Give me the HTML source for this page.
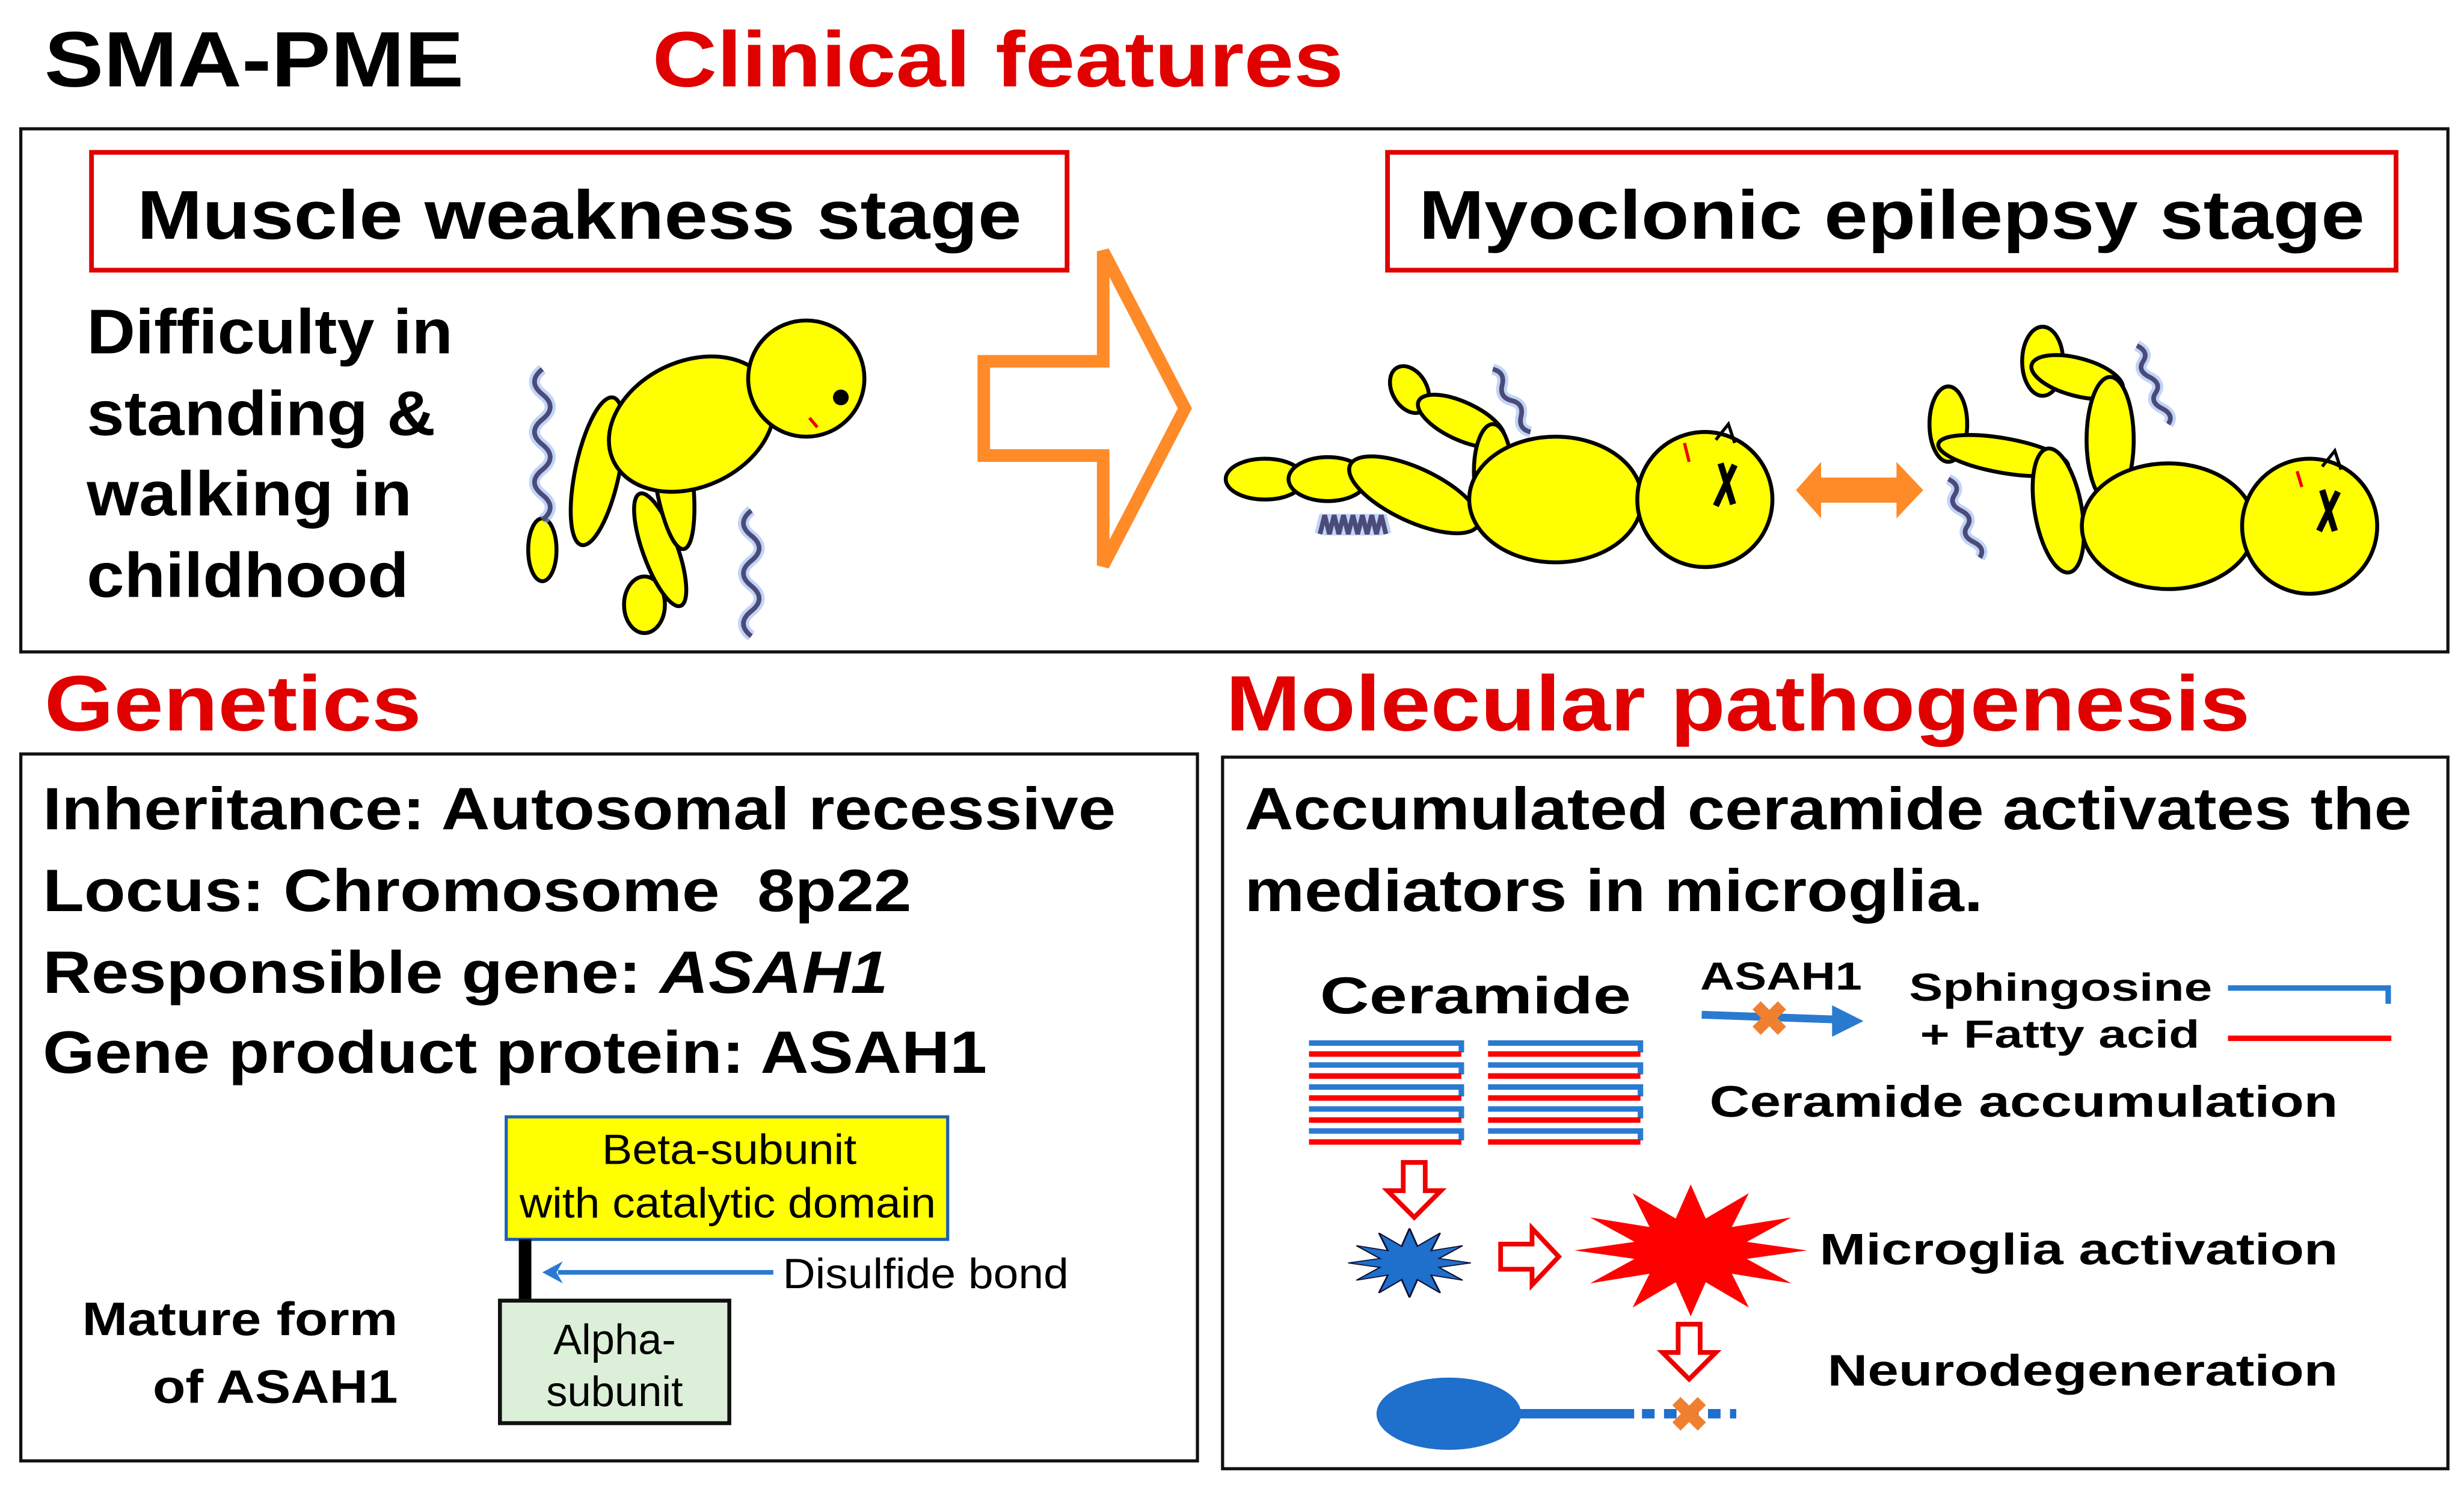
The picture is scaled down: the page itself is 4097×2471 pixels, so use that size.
<!DOCTYPE html>
<html><head><meta charset="utf-8"><style>
html,body{margin:0;padding:0;background:#fff}
svg{display:block}
text{font-family:"Liberation Sans",Arial,sans-serif}
.b{font-weight:bold}
</style></head><body>
<svg width="4097" height="2471" viewBox="0 0 1568 946" xmlns="http://www.w3.org/2000/svg">
<defs>
<polygon id="star" points="1,0 .483,.129 .866,.5 .354,.354 .5,.866 .129,.483 0,1 -.129,.483 -.5,.866 -.354,.354 -.866,.5 -.483,.129 -1,0 -.483,-.129 -.866,-.5 -.354,-.354 -.5,-.866 -.129,-.483 0,-1 .129,-.483 .5,-.866 .354,-.354 .866,-.5 .483,-.129"/>
</defs>
<text x="28" y="55" class="b" font-size="50" textLength="267" lengthAdjust="spacingAndGlyphs">SMA-PME</text>
<text x="415" y="55" class="b" font-size="50" fill="#e00000" textLength="440" lengthAdjust="spacingAndGlyphs">Clinical features</text>
<rect x="13" y="82" width="1545" height="333" fill="none" stroke="#111" stroke-width="2"/>
<rect x="58" y="97" width="621" height="75" fill="none" stroke="#e00000" stroke-width="3"/>
<text x="87" y="152" class="b" font-size="44" textLength="563" lengthAdjust="spacingAndGlyphs">Muscle weakness stage</text>
<rect x="883" y="97" width="642" height="75" fill="none" stroke="#e00000" stroke-width="3"/>
<text x="903" y="152" class="b" font-size="44" textLength="602" lengthAdjust="spacingAndGlyphs">Myoclonic epilepsy stage</text>
<g class="b" font-size="40"><text x="55" y="225" textLength="233" lengthAdjust="spacingAndGlyphs">Difficulty in</text><text x="55" y="277" textLength="222" lengthAdjust="spacingAndGlyphs">standing &amp;</text><text x="55" y="328" textLength="207" lengthAdjust="spacingAndGlyphs">walking in</text><text x="55" y="380" textLength="205" lengthAdjust="spacingAndGlyphs">childhood</text></g>
<polygon points="626,230 702,230 702,160 754,260 702,360 702,290 626,290" fill="none" stroke="#ff8a28" stroke-width="8"/>
<!-- figure 1 -->
<g fill="#ffff00" stroke="#000" stroke-width="2.5">
<ellipse cx="345" cy="350" rx="9" ry="20"/>
<ellipse cx="380" cy="300" rx="14" ry="48" transform="rotate(12 380 300)"/>
<ellipse cx="410" cy="385" rx="13" ry="18"/>
<ellipse cx="420" cy="350" rx="11" ry="38" transform="rotate(-20 420 350)"/>
<ellipse cx="428" cy="300" rx="12" ry="50" transform="rotate(-8 428 300)"/>
<ellipse cx="440" cy="270" rx="55" ry="40" transform="rotate(-25 440 270)"/>
<circle cx="513" cy="241" r="37"/>
</g>
<circle cx="535" cy="253" r="5"/>
<path d="M515,266 l5,6" stroke="#e00" stroke-width="2"/>
<g stroke="#9ab8f0" stroke-width="7" fill="none" opacity="0.6">
<path d="M345,235 q-10,8 0,16 t0,16 t0,16 t0,16 t0,16 t0,16"/>
<path d="M478,325 q-10,8 0,16 t0,16 t0,16 t0,16 t0,16"/>
<path d="M950,235 q8,2 6,10 t6,10 t6,10 t6,10" />
<path d="M840,340 l3,-12 l3,12 l3,-12 l3,12 l3,-12 l3,12 l3,-12 l3,12 l3,-12 l3,12 l3,-12 l3,12 l3,-12 l3,12"/>
<path d="M1360,220 q8,4 4,10 t4,10 t4,10 t4,10 t4,10"/>
<path d="M1240,305 q8,4 4,10 t4,10 t4,10 t4,10 t4,10"/>
</g>
<g stroke="#4b4b7a" stroke-width="3" fill="none">
<path d="M345,235 q-10,8 0,16 t0,16 t0,16 t0,16 t0,16 t0,16"/>
<path d="M478,325 q-10,8 0,16 t0,16 t0,16 t0,16 t0,16"/>
<path d="M950,235 q8,2 6,10 t6,10 t6,10 t6,10" />
<path d="M840,340 l3,-12 l3,12 l3,-12 l3,12 l3,-12 l3,12 l3,-12 l3,12 l3,-12 l3,12 l3,-12 l3,12 l3,-12 l3,12"/>
<path d="M1360,220 q8,4 4,10 t4,10 t4,10 t4,10 t4,10"/>
<path d="M1240,305 q8,4 4,10 t4,10 t4,10 t4,10 t4,10"/>
</g>
<!-- figure 2 -->
<g fill="#ffff00" stroke="#000" stroke-width="2.5">
<ellipse cx="805" cy="305" rx="25" ry="13"/>
<ellipse cx="845" cy="305" rx="25" ry="14"/>
<ellipse cx="900" cy="315" rx="45" ry="17" transform="rotate(25 900 315)"/>
<ellipse cx="897" cy="248" rx="11" ry="16" transform="rotate(-30 897 248)"/>
<ellipse cx="930" cy="268" rx="30" ry="12" transform="rotate(25 930 268)"/>
<ellipse cx="950" cy="300" rx="12" ry="30"/>
<ellipse cx="990" cy="318" rx="55" ry="40"/>
<circle cx="1085" cy="318" r="43"/>
</g>
<path d="M1092,280 l8,-10 l4,12" fill="none" stroke="#000" stroke-width="2"/>
<path d="M1072,282 l3,12" stroke="#e00" stroke-width="2"/>
<path d="M1095,295 l8,26 M1104,296 l-12,26" stroke="#000" stroke-width="4"/>
<path d="M1143,312 l16,-18 v10 h48 v-10 l17,18 l-17,18 v-10 h-48 v10 z" fill="#ff8a28"/>
<!-- figure 3 -->
<g fill="#ffff00" stroke="#000" stroke-width="2.5">
<ellipse cx="1240" cy="270" rx="12" ry="24"/>
<ellipse cx="1275" cy="290" rx="42" ry="11" transform="rotate(10 1275 290)"/>
<ellipse cx="1300" cy="230" rx="13" ry="22"/>
<ellipse cx="1322" cy="240" rx="30" ry="12" transform="rotate(15 1322 240)"/>
<ellipse cx="1343" cy="280" rx="15" ry="40"/>
<ellipse cx="1310" cy="325" rx="15" ry="40" transform="rotate(-10 1310 325)"/>
<ellipse cx="1380" cy="335" rx="55" ry="40"/>
<circle cx="1470" cy="335" r="43"/>
</g>
<path d="M1478,297 l8,-10 l4,12" fill="none" stroke="#000" stroke-width="2"/>
<path d="M1462,300 l3,10" stroke="#e00" stroke-width="2"/>
<path d="M1478,312 l8,26 M1488,313 l-12,25" stroke="#000" stroke-width="4"/>

<text x="28" y="465" class="b" font-size="50" fill="#e00000" textLength="240" lengthAdjust="spacingAndGlyphs">Genetics</text>
<text x="780" y="465" class="b" font-size="50" fill="#e00000" textLength="652" lengthAdjust="spacingAndGlyphs">Molecular pathogenesis</text>
<rect x="13" y="480" width="749" height="450" fill="none" stroke="#111" stroke-width="2"/>
<rect x="778" y="482" width="780" height="453" fill="none" stroke="#111" stroke-width="2"/>
<g class="b" font-size="38">
<text x="27" y="528" textLength="683" lengthAdjust="spacingAndGlyphs">Inheritance: Autosomal recessive</text>
<text x="27" y="580" xml:space="preserve" textLength="553" lengthAdjust="spacingAndGlyphs">Locus: Chromosome  8p22</text>
<text x="27" y="632" textLength="538" lengthAdjust="spacingAndGlyphs">Responsible gene: <tspan font-style="italic">ASAH1</tspan></text>
<text x="27" y="683" textLength="601" lengthAdjust="spacingAndGlyphs">Gene product protein: ASAH1</text>
</g>
<rect x="322" y="711" width="281" height="78" fill="#ffff00" stroke="#1f5fb0" stroke-width="2"/>
<g font-size="27" text-anchor="middle"><text x="464" y="741" textLength="162" lengthAdjust="spacingAndGlyphs">Beta-subunit</text><text x="463" y="775" textLength="265" lengthAdjust="spacingAndGlyphs">with catalytic domain</text></g>
<rect x="330" y="789" width="8" height="40" fill="#000"/>
<line x1="492" y1="810" x2="355" y2="810" stroke="#2a7ad0" stroke-width="3"/>
<path d="M345,810 l13,-7 l-4,7 l4,7 z" fill="#2a7ad0"/>
<text x="498" y="820" font-size="27" textLength="182" lengthAdjust="spacingAndGlyphs">Disulfide bond</text>
<rect x="318" y="828" width="146" height="78" fill="#dcefd8" stroke="#111" stroke-width="2.5"/>
<g font-size="27" text-anchor="middle"><text x="391" y="862">Alpha-</text><text x="391" y="895">subunit</text></g>
<g class="b" font-size="30"><text x="52" y="850" textLength="201" lengthAdjust="spacingAndGlyphs">Mature form</text><text x="97" y="893" textLength="156" lengthAdjust="spacingAndGlyphs">of ASAH1</text></g>

<g class="b" font-size="38"><text x="792" y="528" textLength="743" lengthAdjust="spacingAndGlyphs">Accumulated ceramide activates the</text><text x="792" y="580" textLength="470" lengthAdjust="spacingAndGlyphs">mediators in microglia.</text></g>
<text x="840" y="645" class="b" font-size="33" textLength="198" lengthAdjust="spacingAndGlyphs">Ceramide</text>
<g fill="none" stroke-width="3.5">
<g id="rows">
<path d="M833,664 h97 v6" stroke="#2a7ad0"/><line x1="833" y1="671" x2="930" y2="671" stroke="#f00"/>
<path d="M833,678 h97 v6" stroke="#2a7ad0"/><line x1="833" y1="685" x2="930" y2="685" stroke="#f00"/>
<path d="M833,692 h97 v6" stroke="#2a7ad0"/><line x1="833" y1="699" x2="930" y2="699" stroke="#f00"/>
<path d="M833,706 h97 v6" stroke="#2a7ad0"/><line x1="833" y1="713" x2="930" y2="713" stroke="#f00"/>
<path d="M833,720 h97 v6" stroke="#2a7ad0"/><line x1="833" y1="727" x2="930" y2="727" stroke="#f00"/>
</g>
<use href="#rows" x="114"/>
</g>
<text x="1082" y="630" class="b" font-size="25" textLength="103" lengthAdjust="spacingAndGlyphs">ASAH1</text>
<line x1="1083" y1="646" x2="1168" y2="649" stroke="#2a7ad0" stroke-width="5"/>
<path d="M1186,650 l-20,-10 v20 z" fill="#2a7ad0"/>
<text x="1126" y="659" text-anchor="middle" font-size="30" class="b" fill="#f08030">✖</text>
<text x="1215" y="637" class="b" font-size="25" textLength="193" lengthAdjust="spacingAndGlyphs">Sphingosine</text>
<text x="1222" y="667" class="b" font-size="25" textLength="178" lengthAdjust="spacingAndGlyphs">+ Fatty acid</text>
<path d="M1418,629 h102 v10" fill="none" stroke="#2a7ad0" stroke-width="3.5"/>
<line x1="1418" y1="661" x2="1522" y2="661" stroke="#f00" stroke-width="3.5"/>
<text x="1088" y="711" class="b" font-size="28" textLength="400" lengthAdjust="spacingAndGlyphs">Ceramide accumulation</text>
<path d="M893,740 h14 v18 h10 l-17,17 l-17,-17 h10 z" fill="#fff" stroke="#e00" stroke-width="3"/>
<path d="M955,792 h20 v-10 l17,18 l-17,18 v-10 h-20 z" fill="#fff" stroke="#e00" stroke-width="3"/>
<path d="M1068,843 h14 v18 h10 l-17,17 l-17,-17 h10 z" fill="#fff" stroke="#e00" stroke-width="3"/>
<use href="#star" transform="translate(897,804) scale(39,22)" fill="#1f6fcc" stroke="#113" stroke-width="0.03"/>
<use href="#star" transform="translate(1076,796) scale(74,42)" fill="#f00"/>
<text x="1158" y="805" class="b" font-size="28" textLength="330" lengthAdjust="spacingAndGlyphs">Microglia activation</text>
<text x="1163" y="882" class="b" font-size="28" textLength="325" lengthAdjust="spacingAndGlyphs">Neurodegeneration</text>
<ellipse cx="922" cy="900" rx="46" ry="23" fill="#1f6fcc"/>
<line x1="965" y1="900" x2="1040" y2="900" stroke="#1f6fcc" stroke-width="6"/>
<line x1="1045" y1="900" x2="1105" y2="900" stroke="#1f6fcc" stroke-width="6" stroke-dasharray="8,6"/>
<text x="1075" y="911" text-anchor="middle" font-size="30" class="b" fill="#f08030">✖</text>
</svg>
</body></html>
